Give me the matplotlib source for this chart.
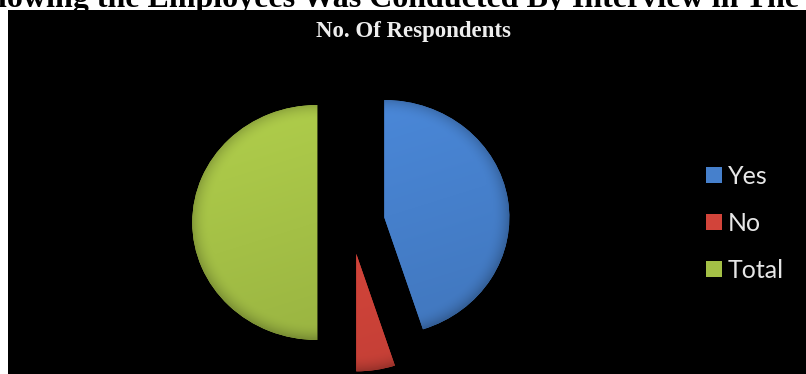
import numpy as np
import matplotlib
matplotlib.use("Agg")
import matplotlib.pyplot as plt
from matplotlib.patches import Rectangle
from matplotlib.colors import to_rgb

# Survey responses
labels = ["Yes", "No", "Total"]
values = [45, 5, 50]
colors = ["#4680cc", "#d2443a", "#a4c046"]

chart_title = "No. Of Respondents"
caption = "lowing the Employees Was Conducted By Interview in The"

W, H = 806, 374
fig = plt.figure(figsize=(W / 100, H / 100), dpi=100)
fig.patch.set_facecolor("white")

# Running heading of the page above the chart
fig.text(-2 / W, 1 - 7 / H, caption, ha="left", va="baseline",
         fontsize=23, fontweight="bold", family="Liberation Serif",
         color="black", zorder=1)

# Black chart area
fig.add_artist(Rectangle((8 / W, 0), 1 - 8 / W, (H - 10) / H,
                         transform=fig.transFigure, facecolor="black",
                         edgecolor="none", zorder=2))

fig.text(413 / W, 1 - 31 / H, chart_title, ha="center", va="center",
         fontsize=16.5, fontweight="bold", family="Liberation Serif",
         color="#eeeeee", zorder=3)

# Pie axes (slightly wider than tall, giving the oval look)
XL, YL = 1.6, 150 / 117.5
ax = fig.add_axes([151 / W, 1.5 / H, 400 / W, 300 / H])
ax.set_zorder(3)
ax.patch.set_alpha(0)
wedges, _ = ax.pie(values, colors=colors, startangle=90, counterclock=False,
                   explode=[0.27] * len(values), radius=1.0,
                   wedgeprops=dict(linewidth=0))
ax.set_aspect("auto")
ax.set_xlim(-XL, XL)
ax.set_ylim(-YL, YL)
ax.axis("off")

# Soft bevel shading inside each slice
n = 400
xs = np.linspace(-XL, XL, n)
ys = np.linspace(-YL, YL, n)
X, Y = np.meshgrid(xs, ys)
for w, base in zip(wedges, colors):
    cx, cy = w.center
    dx, dy = X - cx, Y - cy
    r = np.hypot(dx, dy)
    f = 1.0 + 0.06 * dy - 0.02 * dx
    rim = np.clip((r - 0.86) / 0.14, 0, 1)
    f = f - 0.20 * rim ** 2
    rgb = np.clip(np.array(to_rgb(base))[None, None, :] * f[..., None], 0, 1)
    im = ax.imshow(rgb, extent=(-XL, XL, -YL, YL), origin="lower",
                   aspect="auto", interpolation="bilinear",
                   zorder=w.get_zorder() + 0.1)
    im.set_clip_path(w)
ax.set_xlim(-XL, XL)
ax.set_ylim(-YL, YL)

leg = fig.legend(wedges, labels, loc="upper left",
                 bbox_to_anchor=(706 / W, 1 - 165 / H),
                 frameon=False, labelcolor="#e6e6e6",
                 handlelength=0.62, handleheight=0.62, handletextpad=0.25,
                 labelspacing=0.95, borderpad=0, borderaxespad=0,
                 prop=dict(family="Lato", size=18))
leg.set_zorder(4)

fig.savefig("out.png", dpi=100, facecolor=fig.get_facecolor())
